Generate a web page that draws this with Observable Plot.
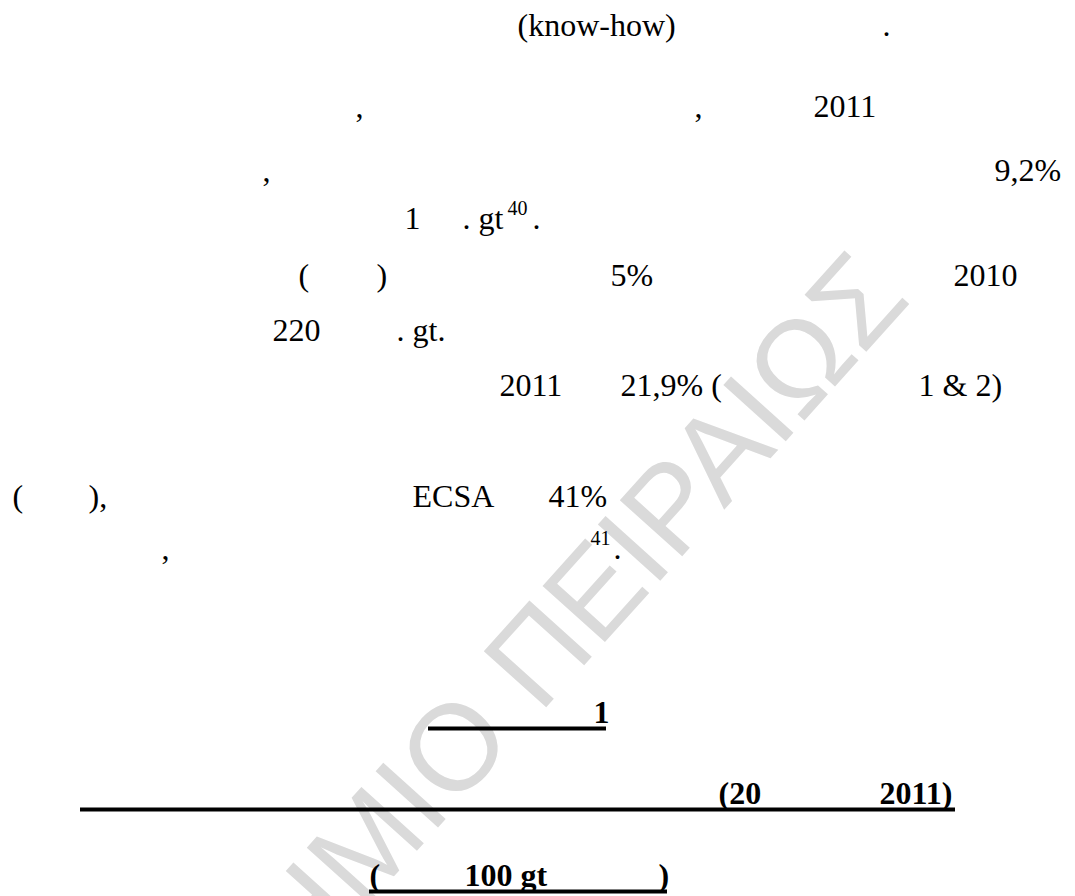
<!DOCTYPE html>
<html>
<head>
<meta charset="utf-8">
<script src="https://cdn.jsdelivr.net/npm/d3@7"></script>
<script src="https://cdn.jsdelivr.net/npm/@observablehq/plot@0.6"></script>
<style>
  html, body { margin: 0; padding: 0; background: #ffffff; }
  svg { display: block; }
</style>
</head>
<body>
<div id="chart"></div>
<script>
// ---- page content (text runs as they appear on the scanned page) ----
const regularTexts = ["(know-how)", ".", ",", ",", "2011", ",", "9,2%", "1", ". gt", ".",
  "(", ")", "5%", "2010", "220", ". gt.", "2011", "21,9% (", "1 & 2)",
  "(", "),", "ECSA", "41%", ",", "."];
const regularLine = [0, 0, 1, 1, 1, 2, 2, 3, 3, 3, 4, 4, 4, 4, 5, 5, 6, 6, 6, 7, 7, 7, 7, 8, 8];
const regularCol = [517, 882, 355, 694, 813, 262, 994, 404, 462, 532, 298, 376, 610, 953, 272, 396, 499, 620, 918, 12, 88, 412, 548, 161, 613];

const supTexts = ["40", "41"];
const supLine = [3, 8];
const supCol = [507, 590];

const boldTexts = ["1", "(20", "2011)", "(", "100 gt", ")"];
const boldLine = [9, 10, 10, 11, 11, 11];
const boldCol = [593, 718, 879, 369, 464, 658];

const underlineLine = [9, 10, 11];
const underlineFrom = [428, 80, 369];
const underlineTo = [606, 955, 667];

const watermarkText = ["ΠΑΝΕΠΙΣΤΗΜΙΟ ΠΕΙΡΑΙΩΣ"];

// ---- layout of the page (baselines in page pixels) ----
const W = 1075, H = 896;
const baselines = [35, 116, 180, 228, 285, 340, 395, 506, 558, 722, 803, 885];
const supRaise = 14;
const underlineGap = 6;

const regular = regularTexts.map((t, i) => ({t, x: regularCol[i], y: baselines[regularLine[i]]}));
const sups = supTexts.map((t, i) => ({t, x: supCol[i], y: baselines[supLine[i]] - supRaise}));
const bold = boldTexts.map((t, i) => ({t, x: boldCol[i], y: baselines[boldLine[i]]}));
const underlines = underlineLine.map((l, i) => ({y: baselines[l] + underlineGap, x1: underlineFrom[i], x2: underlineTo[i]}));
const watermark = watermarkText.map(t => ({t, x: 912, y: 300}));

const serif = "'Liberation Serif', 'Times New Roman', serif";
const sans = "'Liberation Sans', Arial, sans-serif";

const chart = Plot.plot({
  width: W,
  height: H,
  margin: 0,
  x: {domain: [0, W], range: [0, W], axis: null},
  y: {domain: [0, H], range: [0, H], axis: null},
  style: {background: "#ffffff"},
  marks: [
    Plot.text(watermark, {x: "x", y: "y", text: "t", rotate: -48, fontSize: 122,
      fontFamily: sans, fill: "#dadada", textAnchor: "end", lineAnchor: "bottom"}),
    Plot.text(regular, {x: "x", y: "y", text: "t", fontSize: 32, fontFamily: serif,
      fill: "#000", textAnchor: "start", lineAnchor: "bottom"}),
    Plot.text(sups, {x: "x", y: "y", text: "t", fontSize: 20, fontFamily: serif,
      fill: "#000", textAnchor: "start", lineAnchor: "bottom"}),
    Plot.text(bold, {x: "x", y: "y", text: "t", fontSize: 32, fontWeight: "bold", fontFamily: serif,
      fill: "#000", textAnchor: "start", lineAnchor: "bottom"}),
    Plot.ruleY(underlines, {y: "y", x1: "x1", x2: "x2", stroke: "#000", strokeWidth: 4})
  ]
});

document.getElementById("chart").appendChild(chart);
</script>
</body>
</html>
